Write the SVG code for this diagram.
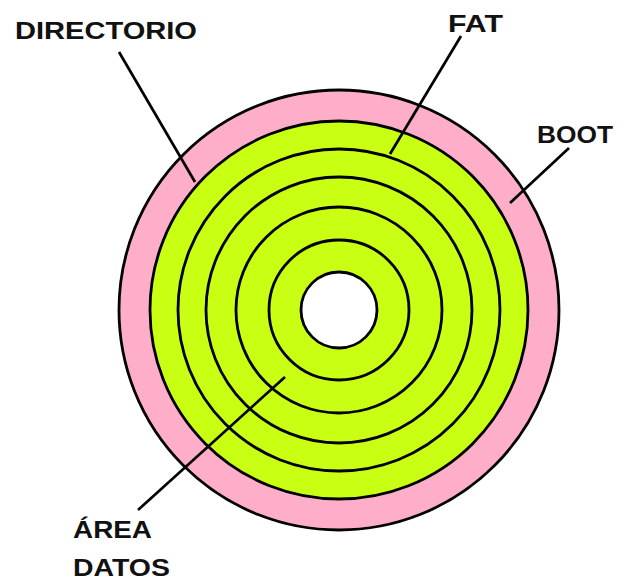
<svg xmlns="http://www.w3.org/2000/svg" width="620" height="580" viewBox="0 0 620 580">
<style>
.ring{stroke:#000;stroke-width:2.8}
.pink{fill:#FFAEC9}
.green{fill:#C9FF12}
.hole{fill:#fff}
.lbl{font-family:"Liberation Sans",Arial,sans-serif;font-weight:bold;font-size:23px;fill:#111}
.conn{stroke:#000;stroke-width:2.7;fill:none}
</style>
<rect width="620" height="580" fill="#fff"/>
<g id="disk">
<circle id="boot" class="ring pink" cx="339" cy="310" r="220"/>
<circle id="directorio" class="ring green" cx="339" cy="310" r="189"/>
<circle id="fat" class="ring green" cx="339" cy="310" r="161"/>
<circle id="datos1" class="ring green" cx="339" cy="310" r="133"/>
<circle id="datos2" class="ring green" cx="339" cy="310" r="103"/>
<circle id="datos3" class="ring green" cx="339" cy="310" r="70"/>
<circle id="hole" class="ring hole" cx="339" cy="310" r="38"/>
</g>
<g id="connectors">
<line class="conn" x1="119" y1="52" x2="195" y2="182"/>
<line class="conn" x1="461" y1="36" x2="390" y2="154"/>
<line class="conn" x1="569" y1="148" x2="510" y2="203"/>
<line class="conn" x1="285" y1="377" x2="138" y2="510"/>
</g>
<g id="label-directorio"><text class="lbl" x="15" y="38.5" textLength="182" lengthAdjust="spacingAndGlyphs">DIRECTORIO</text></g>
<g id="label-fat"><text class="lbl" x="448" y="32" textLength="55" lengthAdjust="spacingAndGlyphs">FAT</text></g>
<g id="label-boot"><text class="lbl" x="537" y="143" textLength="76" lengthAdjust="spacingAndGlyphs">BOOT</text></g>
<g id="label-area"><text class="lbl" x="73" y="538" textLength="79" lengthAdjust="spacingAndGlyphs">ÁREA</text>
<text class="lbl" x="73" y="575.5" textLength="97" lengthAdjust="spacingAndGlyphs">DATOS</text></g>
</svg>
